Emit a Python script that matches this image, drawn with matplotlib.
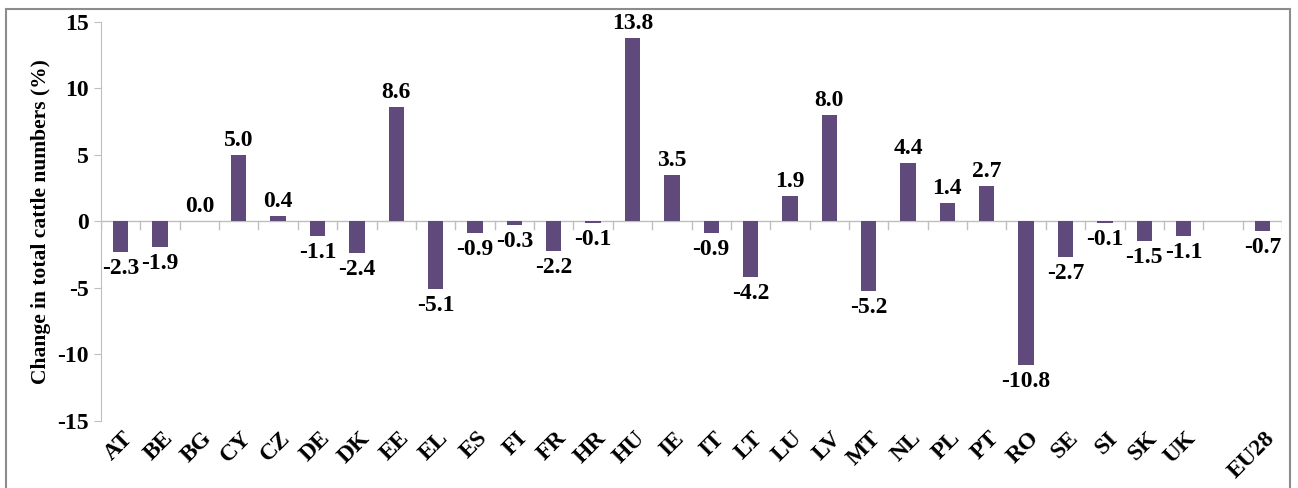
import numpy as np
import matplotlib.pyplot as plt
from matplotlib.patches import Rectangle

countries = ['AT', 'BE', 'BG', 'CY', 'CZ', 'DE', 'DK', 'EE', 'EL', 'ES', 'FI', 'FR', 'HR', 'HU',
             'IE', 'IT', 'LT', 'LU', 'LV', 'MT', 'NL', 'PL', 'PT', 'RO', 'SE', 'SI', 'SK', 'UK',
             '', 'EU28']
changes = [-2.3, -1.9, 0.0, 5.0, 0.4, -1.1, -2.4, 8.6, -5.1, -0.9, -0.3, -2.2, -0.1, 13.8,
           3.5, -0.9, -4.2, 1.9, 8.0, -5.2, 4.4, 1.4, 2.7, -10.8, -2.7, -0.1, -1.5, -1.1,
           None, -0.7]

plt.rcParams['font.family'] = ['Liberation Serif', 'DejaVu Serif']
plt.rcParams['font.weight'] = 'bold'

fig = plt.figure(figsize=(12.98, 4.88), dpi=100)
ax = fig.add_axes([0.0778, 0.1373, 0.9099, 0.8177])

x = np.arange(len(countries))
vals = np.array([np.nan if v is None else v for v in changes])
ax.bar(x, np.nan_to_num(vals), width=0.39, color='#604A7B', zorder=3)

# value labels: above positive bars, below negative ones
for xi, v in zip(x, changes):
    if v is None:
        continue
    if v >= 0:
        ax.text(xi, v + 0.3, f'{v:.1f}', ha='center', va='bottom', fontsize=17, fontweight='bold')
    else:
        ax.text(xi, v - 0.45, f'{v:.1f}', ha='center', va='top', fontsize=17, fontweight='bold')

ax.set_xlim(-0.5, len(countries) - 0.5)
ax.set_ylim(-15, 15)
ax.set_yticks([-15, -10, -5, 0, 5, 10, 15])
ax.set_yticklabels(['-15', '-10', '-5', '0', '5', '10', '15'], fontsize=17, fontweight='bold')
ax.set_ylabel('Change in total cattle numbers (%)', fontsize=15.5, fontweight='bold', labelpad=4)

# category labels placed below the plot, rotated
ax.set_xticks([])
for xi, c in zip(x, countries):
    ax.text(xi + 0.05, -15.5, c, rotation=45, ha='right', va='top', fontsize=17,
            fontweight='bold', rotation_mode='anchor')

# x axis through zero with ticks between categories
grey = '#BFBFBF'
ax.axhline(0, color=grey, lw=1, zorder=2)
for b in np.arange(-0.5, len(countries)):
    ax.plot([b, b], [0, -0.55], color=grey, lw=1, zorder=2)

for s in ['top', 'right', 'bottom']:
    ax.spines[s].set_visible(False)
ax.spines['left'].set_color(grey)
ax.tick_params(axis='y', colors='black', length=5, color=grey, pad=4)

# outer frame
fig.patches.append(Rectangle((6 / 1298, -0.01), 1284 / 1298, 1 - 9 / 488 + 0.01,
                             transform=fig.transFigure, fill=False, edgecolor='#8C8C8C', lw=1.5))

fig.savefig('out.png', dpi=100)
